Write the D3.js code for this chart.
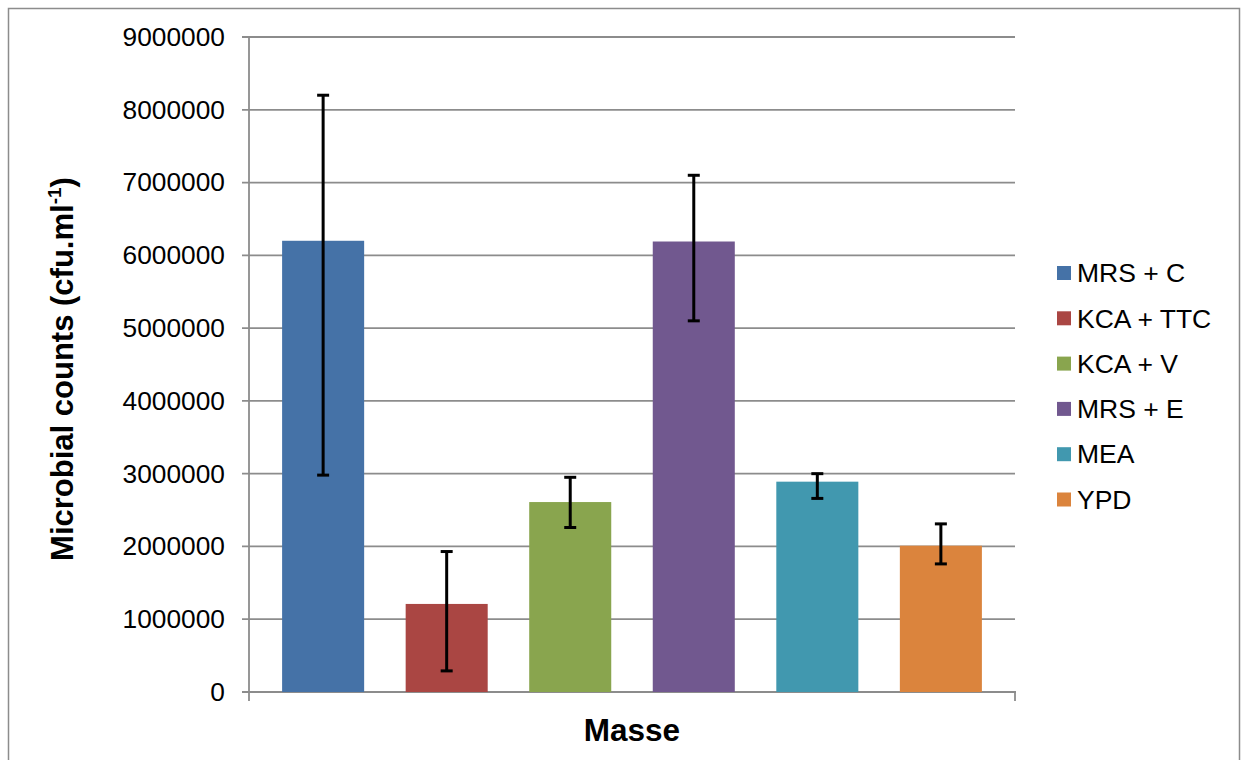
<!DOCTYPE html>
<html>
<head>
<meta charset="utf-8">
<script src="https://cdn.jsdelivr.net/npm/d3@7"></script>
<style>
  html, body { margin: 0; padding: 0; background: #fff; }
  svg { display: block; font-family: "Liberation Sans", Arial, sans-serif; }
</style>
</head>
<body>
<svg id="chart" width="1241" height="760"></svg>
<script>
const category = "Masse";
const series = ["MRS + C", "KCA + TTC", "KCA + V", "MRS + E", "MEA", "YPD"];
const values = [6200000, 1210000, 2610000, 6190000, 2890000, 2010000];
const errUpper = [8200000, 1930000, 2950000, 7100000, 3000000, 2310000];
const errLower = [2980000, 290000, 2260000, 5100000, 2660000, 1760000];
const colors = ["#4572A7", "#AA4643", "#89A54E", "#71588F", "#4198AF", "#DB843D"];
const yTicks = [0, 1000000, 2000000, 3000000, 4000000, 5000000, 6000000, 7000000, 8000000, 9000000];

(function () {
const svg = d3.select("#chart");
const pL = 249, pR = 1015, pT = 37, pB = 692;
const gridColor = "#8c8c8c";

// outer frame
svg.append("path")
  .attr("d", `M8.5,770 L8.5,8.5 L1239.5,8.5 L1239.5,770`)
  .attr("fill", "none").attr("stroke", "#8c8c8c").attr("stroke-width", 1.5);

const y = d3.scaleLinear().domain([0, 9000000]).range([pB, pT]);
const x = d3.scaleBand().domain(series).range([pL, pR]).paddingInner(0.336).paddingOuter(0.268);

// gridlines
svg.append("g").selectAll("line").data(yTicks).join("line")
  .attr("x1", pL - 7).attr("x2", pR)
  .attr("y1", d => y(d)).attr("y2", d => y(d))
  .attr("stroke", gridColor).attr("stroke-width", 1.8);

// y axis
const yAxis = d3.axisLeft(y).tickValues(yTicks).tickFormat(d3.format("d")).tickSize(0).tickPadding(24);
const gy = svg.append("g").attr("transform", `translate(${pL},0)`).call(yAxis);
gy.select(".domain").remove();
gy.selectAll("text").attr("font-size", 26.3).attr("fill", "#000")
  .attr("font-family", "'Liberation Sans', Arial, sans-serif");
svg.append("line").attr("x1", pL).attr("x2", pL).attr("y1", pT).attr("y2", pB + 9)
  .attr("stroke", gridColor).attr("stroke-width", 1.8);

// x axis
svg.append("line").attr("x1", pL - 7).attr("x2", pR + 1).attr("y1", pB).attr("y2", pB)
  .attr("stroke", gridColor).attr("stroke-width", 1.8);
svg.append("line").attr("x1", pR).attr("x2", pR).attr("y1", pB).attr("y2", pB + 9)
  .attr("stroke", gridColor).attr("stroke-width", 1.8);

// bars
svg.append("g").selectAll("rect").data(series).join("rect")
  .attr("x", d => x(d)).attr("width", x.bandwidth())
  .attr("y", (d, i) => y(values[i])).attr("height", (d, i) => y(0) - y(values[i]))
  .attr("fill", (d, i) => colors[i]);

// error bars
const eg = svg.append("g").attr("stroke", "#000").attr("stroke-width", 3);
series.forEach((s, i) => {
  const cx = x(s) + x.bandwidth() / 2;
  eg.append("line").attr("x1", cx).attr("x2", cx).attr("y1", y(errUpper[i])).attr("y2", y(errLower[i]));
  eg.append("line").attr("x1", cx - 6).attr("x2", cx + 6).attr("y1", y(errUpper[i])).attr("y2", y(errUpper[i]));
  eg.append("line").attr("x1", cx - 6).attr("x2", cx + 6).attr("y1", y(errLower[i])).attr("y2", y(errLower[i]));
});

// axis titles
svg.append("text").attr("x", (pL + pR) / 2).attr("y", 741)
  .attr("text-anchor", "middle").attr("font-weight", "bold").attr("font-size", 31.5)
  .text(category);

const yt = svg.append("text")
  .attr("transform", `translate(73,369) rotate(-90)`)
  .attr("text-anchor", "middle").attr("font-weight", "bold").attr("font-size", 31);
yt.append("tspan").text("Microbial counts (cfu.ml");
yt.append("tspan").attr("font-size", 19).attr("dy", -12).text("-1");
yt.append("tspan").attr("dy", 12).text(")");

// legend
const lg = svg.append("g").selectAll("g").data(series).join("g")
  .attr("transform", (d, i) => `translate(1057,${273 + i * 45.3})`);
lg.append("rect").attr("x", 0).attr("y", -7).attr("width", 14).attr("height", 14)
  .attr("fill", (d, i) => colors[i]);
lg.append("text").attr("x", 20).attr("y", 0).attr("dy", "0.35em")
  .attr("font-size", 26.5).attr("fill", "#000").text(d => d);
})();
</script>
</body>
</html>
